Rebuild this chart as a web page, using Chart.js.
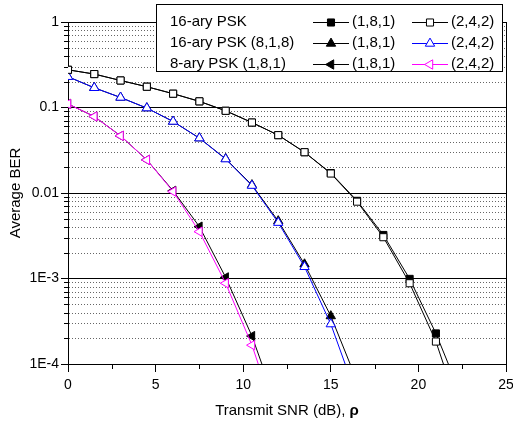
<!DOCTYPE html>
<html>
<head>
<meta charset="utf-8">
<script src="https://cdn.jsdelivr.net/npm/chart.js@4.4.1/dist/chart.umd.min.js"></script>
<style>
  html, body { margin: 0; padding: 0; background: #fff; }
  #wrap { width: 513px; height: 421px; }
</style>
</head>
<body>
<div id="wrap"><canvas id="ber" width="513" height="421"></canvas></div>
<script>
// transmit SNR grid (dB) for each family of curves
const snr16 = [0, 1.5, 3, 4.5, 6, 7.5, 9, 10.5, 12, 13.5, 15, 16.5, 18, 19.5, 21, 22.5];
const snr16b = [0, 1.5, 3, 4.5, 6, 7.5, 9, 10.5, 12, 13.5, 15, 16.5];
const snr8 = [0, 1.5, 3, 4.5, 6, 7.5, 9, 10.5, 12];

// average BER
const ber16_181 = [0.276, 0.246, 0.207, 0.175, 0.145, 0.118, 0.0915, 0.0667, 0.0475, 0.0300, 0.0171, 0.0081, 0.00323, 9.9e-4, 2.28e-4, 4.0e-5];
const ber16_242 = [0.276, 0.246, 0.207, 0.175, 0.145, 0.118, 0.0915, 0.0667, 0.0475, 0.0300, 0.0169, 0.00792, 0.00304, 8.8e-4, 1.83e-4, 2.2e-5];
const ber16c_181 = [0.229, 0.170, 0.131, 0.0984, 0.0686, 0.0438, 0.0251, 0.0124, 0.0047, 1.47e-3, 3.64e-4, 6.3e-5];
const ber16c_242 = [0.229, 0.170, 0.131, 0.0984, 0.0686, 0.0438, 0.0249, 0.0122, 0.0045, 1.37e-3, 2.93e-4, 4.1e-5];
const ber8_181 = [0.110, 0.0785, 0.0466, 0.0244, 0.0106, 4.04e-3, 1.03e-3, 2.12e-4, 2.9e-5];
const ber8_242 = [0.110, 0.0785, 0.0466, 0.0244, 0.0104, 3.53e-3, 8.8e-4, 1.66e-4, 2.0e-5];

// axes
const yTickValues = [1e-4, 1e-3, 1e-2, 1e-1, 1];
const yTickLabels = ['1E-4', '1E-3', '0.01', '0.1', '1'];
const xMinorTicks = [2.5, 7.5, 12.5, 17.5, 22.5];

// legend text
const legendRows = ['16-ary PSK', '16-ary PSK (8,1,8)', '8-ary PSK (1,8,1)'];
const legendCols = ['(1,8,1)', '(2,4,2)'];

const FONT = '"Liberation Sans", Arial, sans-serif';

const pairs = (xs, ys) => ys.map((v, i) => ({ x: xs[i], y: v }));

function series(label, xs, ys, color, style, rot, filled) {
  return {
    label: label,
    data: pairs(xs, ys),
    borderColor: color,
    borderWidth: 1,
    pointStyle: style,
    pointRotation: rot,
    pointRadius: style === 'rect' ? 5 : 5.4,
    pointBorderWidth: 1,
    pointBorderColor: color,
    pointBackgroundColor: filled ? color : '#fff',
    fill: false,
    tension: 0
  };
}

// index 0 is painted last (on top), so open markers go first
const datasets = [
  series('16-ary (2,4,2)', snr16, ber16_242, '#000', 'rect', 0, false),
  series('16-ary (8,1,8) (2,4,2)', snr16b, ber16c_242, '#0000ff', 'triangle', 0, false),
  series('8-ary (2,4,2)', snr8, ber8_242, '#ff00ff', 'triangle', -90, false),
  series('16-ary (1,8,1)', snr16, ber16_181, '#000', 'rect', 0, true),
  series('16-ary (8,1,8) (1,8,1)', snr16b, ber16c_181, '#000', 'triangle', 0, true),
  series('8-ary (1,8,1)', snr8, ber8_181, '#000', 'triangle', -90, true)
];
// legend grid: rows x cols -> dataset index
const legendMap = [[3, 0], [4, 1], [5, 2]];

function marker(ctx, ds, x, y) {
  const r = ds.pointRadius;
  ctx.save();
  ctx.translate(x, y);
  ctx.rotate(ds.pointRotation * Math.PI / 180);
  ctx.beginPath();
  if (ds.pointStyle === 'rect') {
    const s = r * Math.SQRT1_2;
    ctx.rect(-s, -s, 2 * s, 2 * s);
  } else {
    for (let i = 0; i < 3; i++) {
      const a = i * 2 * Math.PI / 3;
      ctx.lineTo(Math.sin(a) * r, -Math.cos(a) * r);
    }
    ctx.closePath();
  }
  ctx.fillStyle = ds.pointBackgroundColor;
  ctx.fill();
  ctx.lineWidth = 1;
  ctx.strokeStyle = ds.pointBorderColor;
  ctx.stroke();
  ctx.restore();
}

const extras = {
  id: 'extras',
  beforeDatasetsDraw(chart) {
    const { ctx, chartArea: a, scales: { x, y } } = chart;
    ctx.save();
    ctx.lineWidth = 1;
    // dotted minor grid
    ctx.strokeStyle = '#666';
    ctx.setLineDash([1, 2]);
    const minors = [];
    yTickValues.slice(0, -1).forEach(d => { for (let k = 2; k <= 9; k++) minors.push(k * d); });
    minors.forEach(v => {
      const py = Math.round(y.getPixelForValue(v)) + 0.5;
      ctx.beginPath(); ctx.moveTo(a.left + 1, py); ctx.lineTo(a.right, py); ctx.stroke();
    });
    ctx.setLineDash([]);
    ctx.strokeStyle = '#000';
    minors.forEach(v => {
      const py = Math.round(y.getPixelForValue(v)) + 0.5;
      ctx.beginPath(); ctx.moveTo(a.left - 4, py); ctx.lineTo(a.left, py); ctx.stroke();
    });
    xMinorTicks.forEach(v => {
      const px = Math.round(x.getPixelForValue(v)) + 0.5;
      ctx.beginPath(); ctx.moveTo(px, a.bottom); ctx.lineTo(px, a.bottom + 5); ctx.stroke();
    });
    const rx = Math.round(a.right) + 0.5;
    ctx.beginPath(); ctx.moveTo(rx, a.top); ctx.lineTo(rx, a.bottom); ctx.stroke();
    ctx.restore();
  },
  afterDraw(chart) {
    const { ctx, chartArea: a } = chart;
    ctx.save();
    // x axis title with bold rho
    ctx.fillStyle = '#000';
    ctx.textBaseline = 'middle';
    const t1 = 'Transmit SNR (dB), ';
    const t2 = 'ρ';
    ctx.font = '15px ' + FONT;
    const w1 = ctx.measureText(t1).width;
    ctx.font = 'bold 15px ' + FONT;
    const w2 = ctx.measureText(t2).width;
    const tx = (a.left + a.right) / 2 - (w1 + w2) / 2;
    ctx.font = '15px ' + FONT;
    ctx.fillText(t1, tx, 411);
    ctx.font = 'bold 15px ' + FONT;
    ctx.fillText(t2, tx + w1, 411);

    // legend box
    ctx.fillStyle = '#fff';
    ctx.fillRect(156, 4, 347, 68);
    ctx.strokeStyle = '#000';
    ctx.lineWidth = 1;
    ctx.strokeRect(156.5, 4.5, 346, 67);
    ctx.font = '15px ' + FONT;
    const rowY = [21.5, 42.5, 63.5];
    const colX = [313, 412];
    legendRows.forEach((txt, r) => {
      ctx.fillStyle = '#000';
      ctx.fillText(txt, 170, rowY[r]);
      legendCols.forEach((lab, c) => {
        const ds = chart.data.datasets[legendMap[r][c]];
        const y0 = Math.round(rowY[r]) + 0.5;
        ctx.strokeStyle = ds.borderColor;
        ctx.beginPath(); ctx.moveTo(colX[c], y0); ctx.lineTo(colX[c] + 36, y0); ctx.stroke();
        marker(ctx, ds, colX[c] + 18, y0);
        ctx.fillStyle = '#000';
        ctx.fillText(lab, colX[c] + 39, rowY[r]);
      });
    });
    ctx.restore();
  }
};

new Chart(document.getElementById('ber'), {
  type: 'line',
  data: { datasets: datasets },
  options: {
    responsive: false,
    animation: false,
    events: [],
    layout: { padding: { top: 22, right: 7, left: 0, bottom: 0 } },
    plugins: { legend: { display: false }, tooltip: { enabled: false } },
    scales: {
      x: {
        type: 'linear',
        min: 0,
        max: 25,
        ticks: { stepSize: 5, color: '#000', font: { family: FONT, size: 14 }, padding: 5, maxRotation: 0 },
        grid: { drawOnChartArea: false, tickLength: 8, tickColor: '#000' },
        border: { color: '#000', width: 1 },
        afterFit(s) { s.height = 57; s.paddingLeft = 0; s.paddingRight = 0; }
      },
      y: {
        type: 'logarithmic',
        min: 1e-4,
        max: 1,
        afterBuildTicks(s) { s.ticks = yTickValues.map(v => ({ value: v })); },
        ticks: {
          color: '#000',
          font: { family: FONT, size: 14 },
          padding: 2,
          callback: (v, i) => yTickLabels[i]
        },
        grid: { color: '#000', lineWidth: 1, tickLength: 7, tickColor: '#000' },
        border: { color: '#000', width: 1 },
        title: { display: true, text: 'Average BER', color: '#000', font: { family: FONT, size: 15 }, padding: { top: 7, bottom: 0 } },
        afterFit(s) { s.width = 68; s.paddingTop = 0; s.paddingBottom = 0; }
      }
    }
  },
  plugins: [extras]
});
</script>
</body>
</html>
